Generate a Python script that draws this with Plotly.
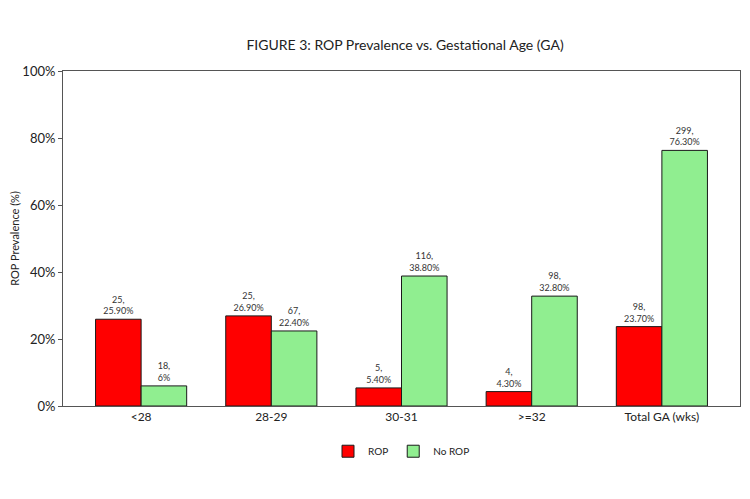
import plotly.graph_objects as go

categories = ["<28", "28-29", "30-31", ">=32", "Total GA (wks)"]
rop_pct = [25.9, 26.9, 5.4, 4.3, 23.7]
rop_n = [25, 25, 5, 4, 98]
norop_pct = [6, 22.4, 38.8, 32.8, 76.3]
norop_n = [18, 67, 116, 98, 299]
yticks = [0, 20, 40, 60, 80, 100]

def fmt(n, p):
    s = f"{p:.2f}%" if p != int(p) else f"{int(p)}%"
    return f"{n},<br>{s}"

font = "Lato, 'Open Sans', sans-serif"

fig = go.Figure()
fig.add_bar(x=categories, y=rop_pct, name="ROP",
            marker=dict(color="#ff0000", line=dict(color="#1a1a1a", width=1)),
            text=[fmt(n, p) for n, p in zip(rop_n, rop_pct)],
            textposition="outside", cliponaxis=False,
            textfont=dict(size=9, color="#333333"))
fig.add_bar(x=categories, y=norop_pct, name="No ROP",
            marker=dict(color="#90ee90", line=dict(color="#1a1a1a", width=1)),
            text=[fmt(n, p) for n, p in zip(norop_n, norop_pct)],
            textposition="outside", cliponaxis=False,
            textfont=dict(size=9, color="#333333"))

fig.update_layout(
    width=750, height=499,
    margin=dict(l=63, r=10, t=71, b=93),
    paper_bgcolor="white", plot_bgcolor="white",
    font=dict(family=font, size=12, color="#222222"),
    title=dict(text="FIGURE 3: ROP Prevalence vs. Gestational Age (GA)",
               x=0.54, xanchor="center", y=0.91, yanchor="middle",
               font=dict(size=14, color="#222222")),
    barmode="group", bargap=0.3, bargroupgap=0,
    showlegend=True,
    legend=dict(orientation="h", x=0.5, xanchor="center", y=-0.135, yanchor="middle",
                font=dict(size=10), itemwidth=30, traceorder="normal"),
)
fig.update_yaxes(range=[0, 100], tickvals=yticks, ticktext=[f"{v}%" for v in yticks],
                 ticks="outside", ticklen=4, tickcolor="#555555",
                 showgrid=False, zeroline=False,
                 showline=True, linecolor="#555555", linewidth=1, mirror=True,
                 title=dict(text="ROP Prevalence (%)", font=dict(size=11), standoff=0),
                 tickfont=dict(size=13))
fig.update_xaxes(range=[-0.6, 4.6], showgrid=False, ticks="", showline=True,
                 linecolor="#555555", linewidth=1, mirror=True, tickfont=dict(size=12))

fig.write_html("out.html")
